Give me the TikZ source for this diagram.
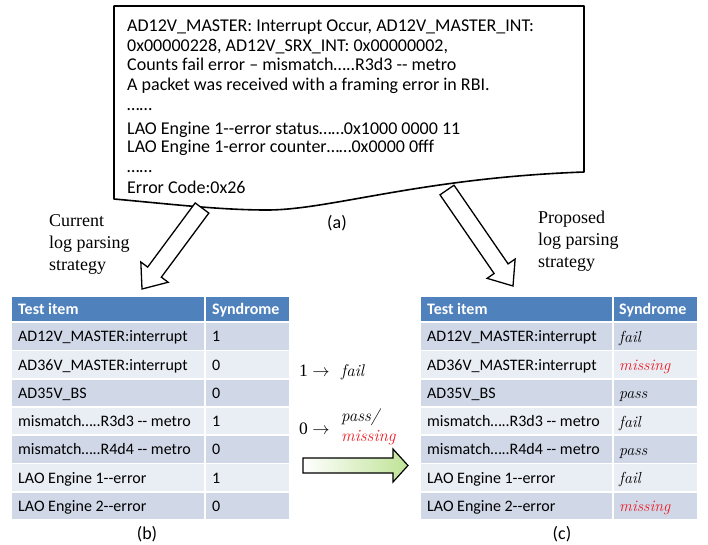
\documentclass[tikz,border=0pt]{standalone}
\usepackage{fontspec}
\setmainfont{Liberation Serif}
\newfontfamily\calfont{Carlito}
\newcommand\lmitalic{\fontfamily{lmr}\itshape}
\usetikzlibrary{calc}

\definecolor{hdr}{HTML}{4F81BD}
\definecolor{rowA}{HTML}{D0D8E8}
\definecolor{rowB}{HTML}{E9EDF4}
\definecolor{miss}{HTML}{EE1C25}
\definecolor{lime}{HTML}{BFE396}

\tikzset{
  doctext/.style={anchor=base west, inner sep=0pt, font=\calfont\fontsize{18}{20}\selectfont},
  celltext/.style={anchor=base west, inner sep=0pt, font=\calfont\fontsize{16}{18}\selectfont},
  headtext/.style={anchor=base west, inner sep=0pt, text=white, font=\calfont\bfseries\fontsize{16}{18}\selectfont},
  synd/.style={anchor=base west, inner sep=0pt, font=\lmitalic\fontsize{16}{18}\selectfont},
  caption/.style={anchor=base west, inner sep=0pt, font=\fontsize{18}{21}\selectfont},
  maptext/.style={anchor=base west, inner sep=0pt, font=\fontsize{17.5}{20}\selectfont},
  mapit/.style={anchor=base west, inner sep=0pt, font=\lmitalic\fontsize{17}{20}\selectfont},
  sublabel/.style={inner sep=0pt, font=\calfont\fontsize{18}{20}\selectfont},
  blockarrow/.style={draw=black, line width=1.3pt, fill=white, line join=miter},
}

% hollow block arrow from tail #1 to tip #2
\newcommand\blockarrow[2]{%
  \coordinate (ba-base) at ($(#2)!21pt!(#1)$);
  \draw[blockarrow]
    ($(#1)!8.5pt!90:(#2)$) -- ($(ba-base)!8.5pt!90:(#2)$) --
    ($(ba-base)!17pt!90:(#2)$) -- (#2) --
    ($(ba-base)!17pt!-90:(#2)$) -- ($(ba-base)!8.5pt!-90:(#2)$) --
    ($(#1)!8.5pt!-90:(#2)$) -- cycle;
}

\begin{document}
\begin{tikzpicture}[x=1pt,y=-1pt]
\useasboundingbox (0,0) rectangle (708,544);

% ---------- log document ----------
\draw[line width=1.6pt, line join=round]
  (114,6) -- (584,6) -- (584,172)
  .. controls (420,178) and (330,210) .. (267,210)
  .. controls (220,210) and (170,204) .. (114,199) -- cycle;

\node[doctext] (log1) at (127,31) {AD12V\_MASTER: Interrupt Occur, AD12V\_MASTER\_INT:};
\node[doctext] (log2) at (127,51.7) {0x00000228, AD12V\_SRX\_INT: 0x00000002,};
\node[doctext] (log3) at (127,70.7) {Counts fail error – mismatch…..R3d3 -{}- metro};
\node[doctext] (log4) at (127,90.7) {A packet was received with a framing error in RBI.};
\node[doctext] (log5) at (127,110) {……};
\node[doctext] (log6) at (127,134) {LAO Engine 1-{}-error status……0x1000 0000 11};
\node[doctext] (log7) at (127,152.7) {LAO Engine 1-error counter……0x0000 0fff};
\node[doctext] (log8) at (127,172) {……};
\node[doctext] (log9) at (127,193) {Error Code:0x26};

\node[sublabel] (lab-a) at (337,223) {(a)};

% ---------- parsing arrows ----------
\coordinate (la-tail) at (202,208);
\coordinate (la-tip) at (142,289);
\coordinate (ra-tail) at (447,190);
\coordinate (ra-tip) at (513,286);
\blockarrow{la-tail}{la-tip}
\blockarrow{ra-tail}{ra-tip}

\node[caption] (cur1) at (49,226.7) {Current};
\node[caption] (cur2) at (49,248.3) {log parsing};
\node[caption] (cur3) at (49,270) {strategy};
\node[caption] (pro1) at (538,223.3) {Proposed};
\node[caption] (pro2) at (538,245) {log parsing};
\node[caption] (pro3) at (538,267) {strategy};

% ---------- tables ----------
% headers
\fill[hdr] (12,297) rectangle (204,321);
\fill[hdr] (206,297) rectangle (289,321);
\fill[hdr] (421,297) rectangle (612,321);
\fill[hdr] (614,297) rectangle (697,321);
\node[headtext] (b-head1) at (18,314.5) {Test item};
\node[headtext] (b-head2) at (212,314.5) {Syndrome};
\node[headtext] (c-head1) at (427,314.5) {Test item};
\node[headtext] (c-head2) at (619,314.5) {Syndrome};

\foreach \item/\bval/\cval/\ccol [count=\i] in {
  AD12V\_MASTER:interrupt/1/fail/black,
  AD36V\_MASTER:interrupt/0/missing/miss,
  AD35V\_BS/0/pass/black,
  mismatch…..R3d3 -{}- metro/1/fail/black,
  mismatch…..R4d4 -{}- metro/0/pass/black,
  LAO Engine 1-{}-error/1/fail/black,
  LAO Engine 2-{}-error/0/missing/miss}
{
  \pgfmathsetmacro\rtop{323+(\i-1)*28.25}
  \pgfmathsetmacro\rbase{\rtop+13.25+5.5}
  \ifodd\i\def\rc{rowA}\else\def\rc{rowB}\fi
  \fill[\rc] (12,\rtop) rectangle (204,\rtop+26.5);
  \fill[\rc] (206,\rtop) rectangle (289,\rtop+26.5);
  \fill[\rc] (421,\rtop) rectangle (612,\rtop+26.5);
  \fill[\rc] (614,\rtop) rectangle (697,\rtop+26.5);
  \node[celltext] (b-item-\i) at (18,\rbase) {\item};
  \node[celltext] (b-val-\i) at (212,\rbase) {\bval};
  \node[celltext] (c-item-\i) at (427,\rbase) {\item};
  \node[synd, text=\ccol] (c-val-\i) at (619,\rbase+0.5) {\cval};
}

\node[sublabel] (lab-b) at (147,534) {(b)};
\node[sublabel] (lab-c) at (562,534) {(c)};

% ---------- syndrome mapping ----------
\node[maptext] (map1) at (299,376.5) {1 $\rightarrow$};
\node[mapit] (map-fail) at (341,376.5) {fail};
\node[maptext] (map0) at (299,434) {0 $\rightarrow$};
\node[mapit] (map-pass) at (341,421.5) {pass/};
\node[mapit, text=miss] (map-miss) at (341,441.5) {missing};

\shadedraw[left color=white, right color=lime, line width=1.2pt, line join=miter]
  (303,458) -- (393,458) -- (393,449) -- (408,465.5) -- (393,482) -- (393,473) -- (303,473) -- cycle;

\end{tikzpicture}
\end{document}
